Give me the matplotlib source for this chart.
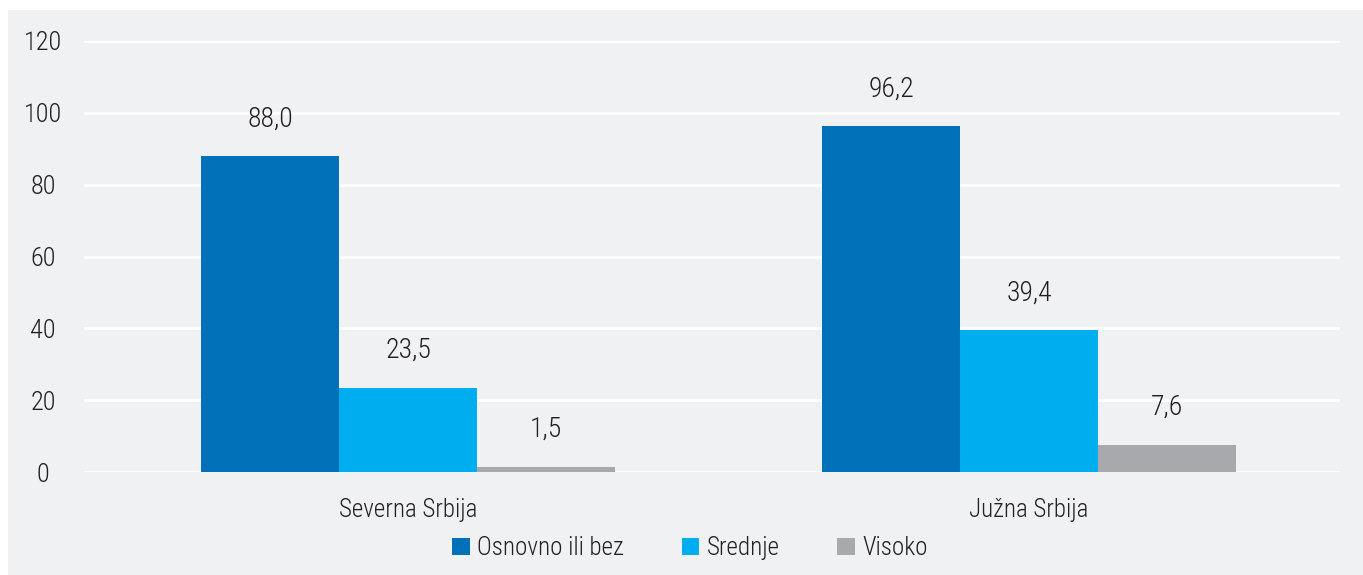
import matplotlib.pyplot as plt
import numpy as np
from matplotlib.patches import Rectangle

regions = ["Severna Srbija", "Južna Srbija"]
series_names = ["Osnovno ili bez", "Srednje", "Visoko"]
osnovno = [88.0, 96.2]
srednje = [23.5, 39.4]
visoko = [1.5, 7.6]
values = [osnovno, srednje, visoko]
colors = ["#0070b8", "#00aeef", "#a7a9ac"]
yticks = [0, 20, 40, 60, 80, 100, 120]

plt.rcParams["font.family"] = ["Roboto Condensed", "DejaVu Sans"]
plt.rcParams["font.weight"] = 300
text_color = "#231f20"
bg = "#f0f1f3"

fig = plt.figure(figsize=(13.63, 5.75), dpi=100)
fig.patch.set_facecolor("white")
fig.patches.append(Rectangle((8 / 1363, 0), 1, 1 - 10 / 575,
                             transform=fig.transFigure, facecolor=bg,
                             edgecolor="none", zorder=-10))

ax = fig.add_axes([84 / 1363, 1 - 472 / 575, 1256 / 1363, 431 / 575])
ax.set_facecolor("none")

x = np.arange(len(regions))
width = 0.222
for i, (name, vals, col) in enumerate(zip(series_names, values, colors)):
    pos = x + (i - 1) * width
    bars = ax.bar(pos, vals, width, color=col, label=name, zorder=3)
    for b, v in zip(bars, vals):
        ax.annotate(f"{v:.1f}".replace(".", ","),
                    (b.get_x() + b.get_width() / 2, v),
                    xytext=(0, 17), textcoords="offset points",
                    ha="center", va="bottom", fontsize=20, color=text_color)

ax.set_ylim(0, 120)
ax.set_xlim(-0.522, 1.501)
ax.set_yticks(yticks)
ax.set_yticklabels([str(t) for t in yticks], fontsize=19, color=text_color,
                   ha="center")
ax.set_xticks(x)
ax.set_xticklabels(regions, fontsize=18, color=text_color)
ax.tick_params(axis="both", length=0)
ax.tick_params(axis="y", pad=29.5)
ax.tick_params(axis="x", pad=19)
ax.grid(axis="y", color="white", linewidth=2, zorder=1)
for s in ax.spines.values():
    s.set_visible(False)

leg = fig.legend(loc="center", bbox_to_anchor=(690 / 1363, 1 - 548 / 575),
                 ncol=3, frameon=False, fontsize=18, handlelength=0.7,
                 handleheight=0.7, handletextpad=0.3, columnspacing=2.3)
for t in leg.get_texts():
    t.set_color(text_color)

fig.savefig("out.png", dpi=100)
